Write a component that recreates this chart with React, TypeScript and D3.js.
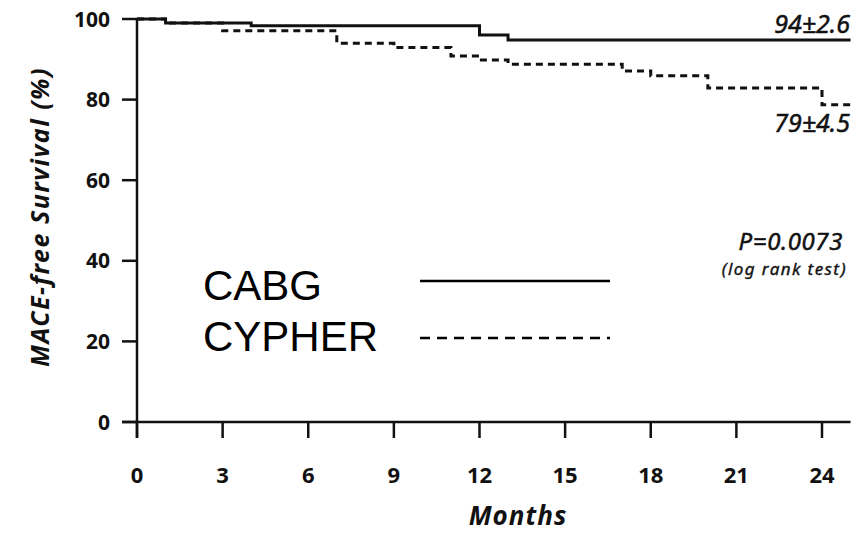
import React from "react";
import * as d3 from "d3";

const xTicks = [0, 3, 6, 9, 12, 15, 18, 21, 24];
const yTicks = [0, 20, 40, 60, 80, 100];

const cabgMonths = [0, 1, 4, 12, 13, 25];
const cabgSurvival = [100, 99, 98.3, 96, 94.8, 94.8];

const cypherMonths = [0, 1, 3, 7, 9, 11, 12, 13, 17, 18, 20, 24, 25];
const cypherSurvival = [100, 99, 97.1, 94, 92.9, 90.8, 89.8, 88.8, 87.1, 85.9, 82.9, 78.7, 78.7];

const seriesNames = ["CABG", "CYPHER"];
const endLabels = ["94±2.6", "79±4.5"];
const pText = "P=0.0073";
const testText = "(log rank test)";
const xTitle = "Months";
const yTitle = "MACE-free Survival (%)";

const W = 864;
const H = 533;
const FONT = "'Noto Sans', 'Open Sans', sans-serif";

export default function App() {
  const x = d3.scaleLinear().domain([0, 24]).range([137, 822]);
  const y = d3.scaleLinear().domain([0, 100]).range([422, 19]);

  const line = d3
    .line<[number, number]>()
    .x((d) => x(d[0]))
    .y((d) => y(d[1]))
    .curve(d3.curveStepAfter);

  const cabg: [number, number][] = cabgMonths.map((m, i) => [m, cabgSurvival[i]]);
  const cypher: [number, number][] = cypherMonths.map((m, i) => [m, cypherSurvival[i]]);

  const x0 = x(0);
  const y0 = y(0);
  const xEnd = x(25);

  const annot = {
    fontFamily: FONT,
    fontStyle: "italic",
    fill: "#111",
    stroke: "#111",
    strokeWidth: 0.5,
  } as const;

  return (
    <svg
      width={W}
      height={H}
      style={{ position: "absolute", left: 0, top: 0, background: "#fff" }}
    >
      <rect x={0} y={0} width={W} height={H} fill="#fff" />
      {/* axes */}
      <line x1={x0} x2={x0} y1={y(100)} y2={y0 + 16} stroke="#111" strokeWidth={2.5} />
      <line x1={x0 - 15} x2={xEnd} y1={y0} y2={y0} stroke="#111" strokeWidth={2.5} />
      {yTicks.map((t) => (
        <g key={"y" + t}>
          <line x1={x0 - 15} x2={x0} y1={y(t)} y2={y(t)} stroke="#111" strokeWidth={2.5} />
          <text
            x={110}
            y={y(t)}
            dy="0.36em"
            textAnchor="end"
            fontFamily={FONT}
            fontWeight="bold"
            fontSize={21}
            fill="#111"
          >
            {t}
          </text>
        </g>
      ))}
      {xTicks.map((t) => (
        <g key={"x" + t}>
          <line x1={x(t)} x2={x(t)} y1={y0} y2={y0 + 16} stroke="#111" strokeWidth={2.5} />
          <text
            x={x(t)}
            y={483}
            textAnchor="middle"
            fontFamily={FONT}
            fontWeight="bold"
            fontSize={22}
            fill="#111"
          >
            {t}
          </text>
        </g>
      ))}
      <text
        x={518}
        y={525}
        textAnchor="middle"
        fontFamily={FONT}
        fontWeight="bold"
        fontStyle="italic"
        fontSize={26}
        letterSpacing={1}
        fill="#111"
      >
        {xTitle}
      </text>
      <text
        transform={`translate(49,217) rotate(-90)`}
        textAnchor="middle"
        fontFamily={FONT}
        fontWeight="bold"
        fontStyle="italic"
        fontSize={25}
        letterSpacing={1.5}
        fill="#111"
      >
        {yTitle}
      </text>

      {/* curves */}
      <path d={line(cypher) || ""} fill="none" stroke="#111" strokeWidth={3} strokeDasharray="7,5" />
      <path d={line(cabg) || ""} fill="none" stroke="#111" strokeWidth={3} />

      {/* end labels */}
      <text x={850} y={33} textAnchor="end" fontSize={25} {...annot}>
        {endLabels[0]}
      </text>
      <text x={850} y={132} textAnchor="end" fontSize={25} {...annot}>
        {endLabels[1]}
      </text>
      <text x={843} y={250} textAnchor="end" fontSize={24} letterSpacing={0.6} {...annot}>
        {pText}
      </text>
      <text x={847} y={275} textAnchor="end" fontSize={17} letterSpacing={1.4} {...annot} strokeWidth={0.35}>
        {testText}
      </text>

      {/* legend */}
      <text x={203} y={300} fontFamily="'Liberation Sans', Arial, sans-serif" fontSize={42} fill="#000">
        {seriesNames[0]}
      </text>
      <text x={203} y={351} fontFamily="'Liberation Sans', Arial, sans-serif" fontSize={42} fill="#000">
        {seriesNames[1]}
      </text>
      <line x1={420} x2={610} y1={281} y2={281} stroke="#000" strokeWidth={2.5} />
      <line x1={420} x2={610} y1={338} y2={338} stroke="#000" strokeWidth={2.5} strokeDasharray="10,7" />
    </svg>
  );
}
